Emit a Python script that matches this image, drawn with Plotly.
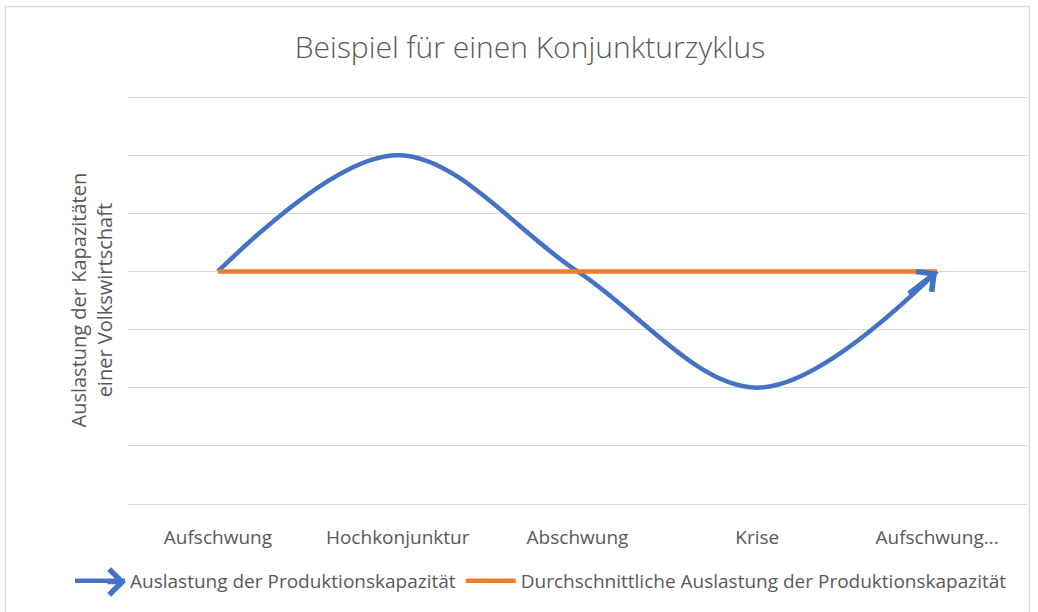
import plotly.graph_objects as go

categories = ["Aufschwung", "Hochkonjunktur", "Abschwung", "Krise", "Aufschwung..."]
auslastung = [4, 6, 4, 2, 4]
durchschnitt = [4, 4, 4, 4, 4]

BLUE = "#4472C4"
ORANGE = "#ED7D31"
GRAY_TEXT = "#595959"
GRID = "#D9D9D9"
FONT = "Open Sans"

W, H = 1038, 612
PAD = 2  # px padding so the edge gridlines are not clipped
ML, MR, MT, MB = 128, 11, 97 - PAD, 108 - PAD
PW = W - ML - MR
PH = H - MT - MB
Y_MIN, Y_MAX = 0, 7
UNIT_PX = (PH - 2 * PAD) / (Y_MAX - Y_MIN)


def px_x(x):
    return (x - ML) / PW


def px_y(y):
    return (H - MB - y) / PH


fig = go.Figure()
fig.add_trace(go.Scatter(
    x=categories, y=auslastung, mode="lines",
    name="Auslastung der Produktionskapazität",
    line=dict(color=BLUE, width=4.5, shape="spline", smoothing=1.0),
))
fig.add_trace(go.Scatter(
    x=categories, y=durchschnitt, mode="lines",
    name="Durchschnittliche Auslastung der Produktionskapazität",
    line=dict(color=ORANGE, width=4.5),
))

# arrow head at the end of the blue series
fig.add_annotation(
    x=categories[-1], y=auslastung[-1], xref="x", yref="y",
    ax=-30, ay=23, axref="pixel", ayref="pixel",
    text="", showarrow=True, arrowhead=4, arrowsize=1.1, arrowwidth=4.5,
    arrowcolor=BLUE, standoff=0,
)

# arrow head on the legend symbol of the blue series
fig.add_annotation(
    x=px_x(126), y=px_y(582), xref="paper", yref="paper",
    ax=-20, ay=0, axref="pixel", ayref="pixel",
    text="", showarrow=True, arrowhead=4, arrowsize=1.1, arrowwidth=4.5,
    arrowcolor=BLUE, standoff=0,
)

# y-axis title
fig.add_annotation(
    x=px_x(91), y=0.5, xref="paper", yref="paper",
    text="Auslastung der Kapazitäten<br>einer Volkswirtschaft",
    textangle=-90, showarrow=False,
    font=dict(family=FONT, size=20, color=GRAY_TEXT),
    xanchor="center", yanchor="middle",
)

# chart area border
fig.add_shape(
    type="rect", xref="paper", yref="paper",
    x0=px_x(5.5), x1=px_x(1029.5), y0=px_y(640), y1=px_y(6.5),
    line=dict(color=GRID, width=1.5), fillcolor="rgba(0,0,0,0)", layer="below",
)

fig.update_layout(
    width=W, height=H,
    margin=dict(l=ML, r=MR, t=MT, b=MB, autoexpand=False),
    paper_bgcolor="white", plot_bgcolor="white",
    title=dict(
        text="Beispiel für einen Konjunkturzyklus",
        x=530 / W, xref="container", xanchor="center",
        y=1 - 47 / H, yref="container", yanchor="middle",
        font=dict(family=FONT, size=30, color=GRAY_TEXT, weight=300),
    ),
    xaxis=dict(
        type="category", range=[-0.5, 4.5],
        showgrid=False, zeroline=False, showline=False,
        ticks="", tickfont=dict(family=FONT, size=19, color=GRAY_TEXT),
        ticklabelstandoff=18,
    ),
    yaxis=dict(
        range=[Y_MIN - PAD / UNIT_PX, Y_MAX + PAD / UNIT_PX], dtick=1, tick0=0,
        showticklabels=False, ticks="",
        showgrid=True, gridcolor=GRID, gridwidth=1.3,
        zeroline=False, showline=False,
    ),
    legend=dict(
        orientation="h", x=px_x(70), y=px_y(581),
        xanchor="left", yanchor="middle",
        font=dict(family=FONT, size=19, color=GRAY_TEXT),
        itemwidth=50, tracegroupgap=0,
    ),
    showlegend=True,
)

fig.write_html(
    "out.html",
    config={"displayModeBar": False},
    post_script="document.body.style.margin='0';document.body.style.padding='0';",
)
